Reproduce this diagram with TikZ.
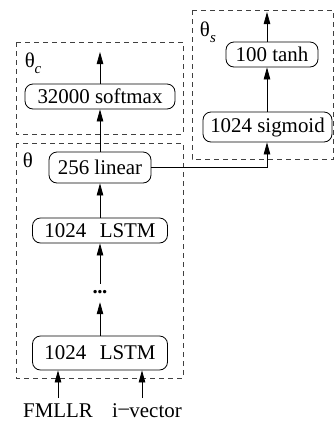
\documentclass[tikz,border=0pt]{standalone}
\usepackage{fontspec}
\setmainfont{Liberation Serif}
\usetikzlibrary{arrows.meta}
\begin{document}
\begin{tikzpicture}[x=1bp,y=-1bp,
  layer/.style={draw,line width=0.8bp,rounded corners=8bp,inner sep=0pt,
    font=\fontsize{21}{24}\selectfont},
  group/.style={draw=black!75,line width=0.8bp,dash pattern=on 5bp off 4bp},
  flow/.style={line width=0.8bp,-{Triangle[length=12bp,width=6.5bp]}},
  tag/.style={font=\fontsize{21}{24}\selectfont,inner sep=0pt},
  subtag/.style={font=\fontsize{15}{17}\selectfont\itshape,inner sep=0pt}]
\useasboundingbox (0,0) rectangle (335,421);

% parameter groups
\draw[group] (16,42) rectangle (183,134);
\draw[group] (192,10) rectangle (333.5,159);
\draw[group] (16,143) rectangle (183,378);
\node[tag] (thc) at (30,60) {θ};
\node[subtag] (subc) at (38,70) {c};
\node[tag] (ths) at (205,29) {θ};
\node[subtag] (subs) at (213,39) {s};
\node[tag] (th) at (28,160) {θ};

% layers
\node[layer,minimum width=150bp,minimum height=25bp] (soft) at (100,96.5) {32000 softmax};
\node[layer,minimum width=92bp,minimum height=25bp] (tanh) at (272,54.5) {100 tanh};
\node[layer,minimum width=129bp,minimum height=30bp] (sig) at (267.5,127) {1024 sigmoid};
\node[layer,minimum width=102bp,minimum height=31bp] (lin) at (100,167.5) {256 linear};
\node[layer,minimum width=135bp,minimum height=25bp] (lstmA) at (100,230.5) {1024\hspace{0.65em}LSTM};
\node[inner sep=0pt,minimum height=18bp,font=\fontsize{21}{24}\selectfont\bfseries] (dots) at (100,293) {\raisebox{0.25ex}{.\kern-0.5bp.\kern-0.5bp.}};
\node[layer,minimum width=135bp,minimum height=34bp] (lstmB) at (100,353) {1024\hspace{0.65em}LSTM};

% inputs
\node[tag,anchor=base] (fm) at (58,417) {FMLLR};
\node[tag,anchor=base] (iv) at (147,417) {i\kern0.5bp\raisebox{0.25ex}{–}\kern0.5bp vector};
\coordinate (colS) at (267,0);
\coordinate (topS) at (267,12);
\coordinate (topC) at (100,52);
\coordinate (fmTop) at (58,398);
\coordinate (ivTop) at (142,398);

% connections
\draw[flow] (soft.north) -- (topC);
\draw[flow] (lin.north) -- (soft.south);
\draw[flow] (lin.east) -| (sig.south -| colS);
\draw[flow] (sig.north -| colS) -- (tanh.south -| colS);
\draw[flow] (tanh.north -| colS) -- (topS);
\draw[flow] (lstmA.north) -- (lin.south);
\draw[flow] (dots.north) -- (lstmA.south);
\draw[flow] (lstmB.north) -- (dots.south);
\draw[flow] (fmTop) -- (fmTop |- lstmB.south);
\draw[flow] (ivTop) -- (ivTop |- lstmB.south);
\end{tikzpicture}
\end{document}
